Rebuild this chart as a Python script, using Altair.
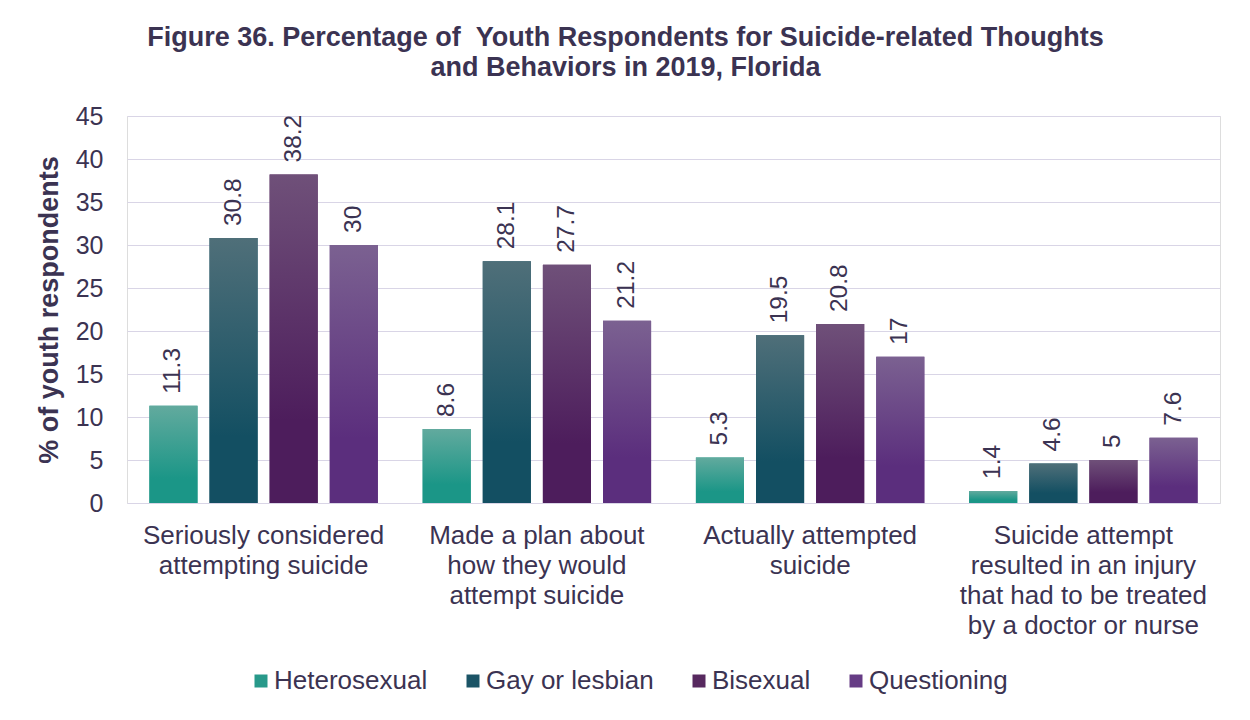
import altair as alt
import pandas as pd

categories = [
    "Seriously considered|attempting suicide",
    "Made a plan about|how they would|attempt suicide",
    "Actually attempted|suicide",
    "Suicide attempt|resulted in an injury|that had to be treated|by a doctor or nurse",
]
series = ["Heterosexual", "Gay or lesbian", "Bisexual", "Questioning"]
heterosexual = [11.3, 8.6, 5.3, 1.4]
gay_lesbian = [30.8, 28.1, 19.5, 4.6]
bisexual = [38.2, 27.7, 20.8, 5.0]
questioning = [30.0, 21.2, 17.0, 7.6]

legend_colors = ["#28998a", "#1b5466", "#57295f", "#663c85"]
grad_top = ["#62aa9e", "#4f6f79", "#6f5079", "#7b6191"]
grad_base = ["#1b9687", "#134f62", "#4d1d5c", "#5b2e7d"]

rows = []
for s, vals in zip(series, [heterosexual, gay_lesbian, bisexual, questioning]):
    for c, v in zip(categories, vals):
        rows.append({"category": c, "series": s, "value": v})
df = pd.DataFrame(rows)

TEXT = "#3b3352"
FONT = "Liberation Sans"

x_enc = alt.X("category:N", sort=categories, title=None,
              scale=alt.Scale(domain=categories, paddingInner=0.12, paddingOuter=0.06),
              axis=alt.Axis(labelExpr="split(datum.label, '|')", labelAngle=0,
                            labelFontSize=26, labelLineHeight=30, labelColor=TEXT,
                            labelFont=FONT, labelPadding=19, labelLimit=0,
                            ticks=False, tickSize=0,
                            domain=False, grid=False, labelBaseline="top"))
xo_enc = alt.XOffset("series:N", sort=series,
                     scale=alt.Scale(domain=series, paddingInner=0.2, paddingOuter=0.1))
y_enc = alt.Y("value:Q", title="% of youth respondents",
              scale=alt.Scale(domain=[0, 45]),
              axis=alt.Axis(values=list(range(0, 46, 5)), labelFontSize=25,
                            labelColor=TEXT, labelFont=FONT, labelPadding=24,
                            ticks=False, tickSize=0, domain=False,
                            gridColor="#d9d5e6", gridWidth=1.2,
                            titleFontSize=27, titleFont=FONT, titleFontWeight="bold",
                            titleColor=TEXT, titlePadding=12))

base = alt.Chart(df)

legend_bars = base.mark_bar().encode(
    x=x_enc, xOffset=xo_enc, y=y_enc,
    color=alt.Color("series:N", sort=series,
                    scale=alt.Scale(domain=series, range=legend_colors),
                    legend=alt.Legend(title=None, orient="none", direction="horizontal",
                                      legendX=121, legendY=552,
                                      symbolType="square",
                                      symbolSize=169, symbolStrokeWidth=0,
                                      labelFontSize=26, labelFont=FONT, labelColor=TEXT,
                                      labelOffset=0, columnPadding=32, padding=0,
                                      labelLimit=0)),
)

grad_layers = []
for s, t, b in zip(series, grad_top, grad_base):
    g = alt.LinearGradient(gradient="linear",
                           stops=[alt.GradientStop(color=t, offset=0),
                                  alt.GradientStop(color=b, offset=0.75),
                                  alt.GradientStop(color=b, offset=1)],
                           x1=0, x2=0, y1=0, y2=1)
    grad_layers.append(
        base.transform_filter(alt.datum.series == s)
        .mark_bar(color=g)
        .encode(x=x_enc, xOffset=xo_enc, y=y_enc)
    )

labels = base.mark_text(angle=270, align="left", baseline="middle", dx=12,
                        fontSize=24.5, font=FONT, color=TEXT).encode(
    x=x_enc, xOffset=xo_enc, y=y_enc, text=alt.Text("value:Q"))

chart = alt.layer(legend_bars, *grad_layers, labels).properties(
    width=1093, height=387,
    autosize=alt.AutoSizeParams(type="none"),
    padding={"left": 119, "top": 108, "right": 22, "bottom": 205},
    title=alt.Title(
        ["Figure 36. Percentage of \u00a0Youth Respondents for Suicide-related Thoughts",
         "and Behaviors in 2019, Florida"],
        fontSize=27, font=FONT, fontWeight="bold", color=TEXT, lineHeight=30,
        anchor="middle", frame="group", dx=-48, offset=22),
).configure_view(stroke=None).configure(background="white")

chart.save("out.html", embed_options={"renderer": "svg", "actions": False})
